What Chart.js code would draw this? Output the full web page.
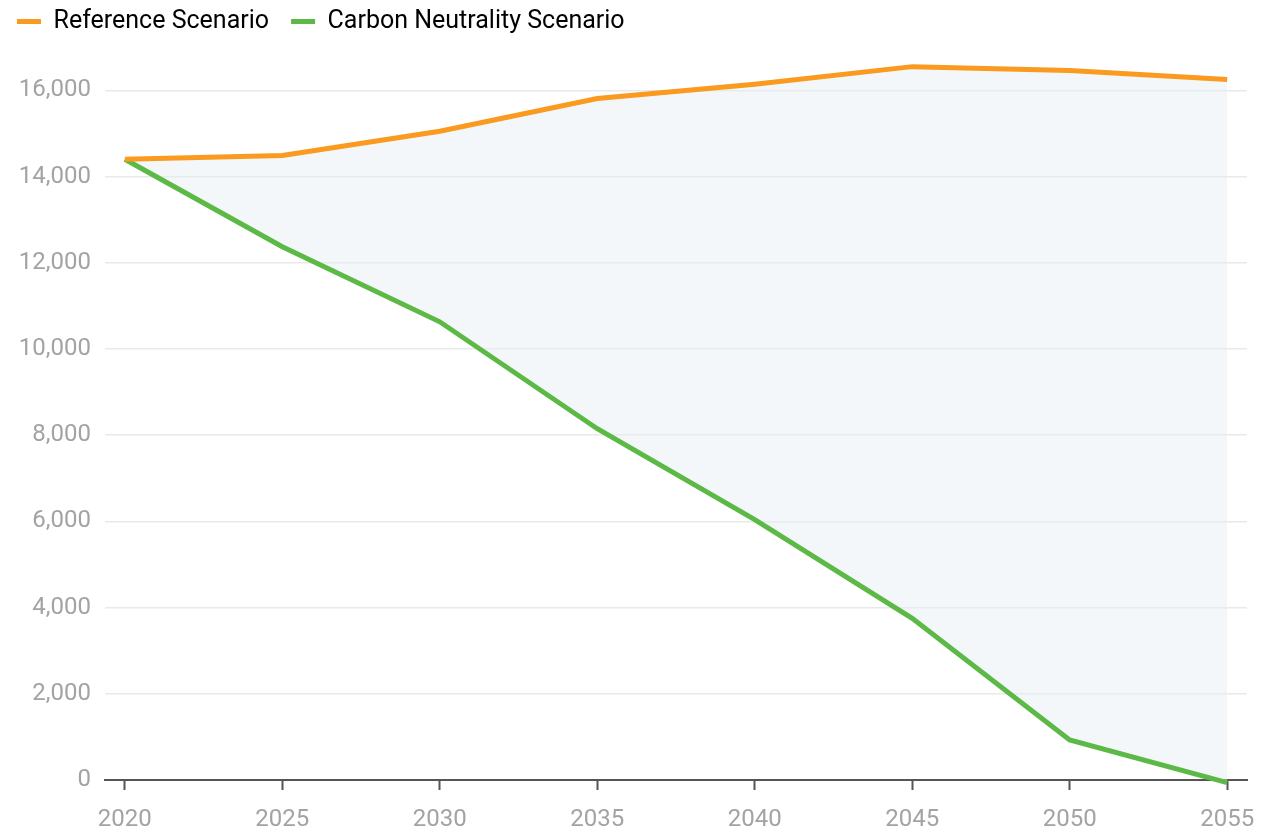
<!DOCTYPE html>
<html>
<head>
<meta charset="utf-8">
<script src="https://cdn.jsdelivr.net/npm/chart.js@4.4.1/dist/chart.umd.min.js"></script>
<style>
  html, body { margin: 0; padding: 0; background: #fff; }
  #wrap { width: 1281px; height: 832px; position: relative; }
</style>
</head>
<body>
<div id="wrap"><canvas id="chart"></canvas></div>
<script>
// Dados
const years = [2020, 2025, 2030, 2035, 2040, 2045, 2050, 2055];
const referenceValues = [14400, 14490, 15050, 15810, 16140, 16550, 16460, 16250];
const neutralityValues = [14400, 12370, 10630, 8150, 6040, 3750, 930, -60];
const yTicks = [0, 2000, 4000, 6000, 8000, 10000, 12000, 14000, 16000];

const orange = '#fa9a1e';
const green = '#5cb946';

const toPoints = (vals) => years.map((y, i) => ({ x: y, y: vals[i] }));

new Chart(document.getElementById('chart'), {
    type: 'line',
    data: {
        datasets: [{
            label: 'Reference Scenario',
            data: toPoints(referenceValues),
            borderColor: orange,
            backgroundColor: orange,
            borderWidth: 5,
            pointRadius: 0,
            tension: 0,
            fill: false,
            clip: false
        }, {
            label: 'Carbon Neutrality Scenario',
            data: toPoints(neutralityValues),
            borderColor: green,
            backgroundColor: 'rgba(232, 239, 246, 0.5)',
            borderWidth: 5,
            pointRadius: 0,
            tension: 0,
            fill: '-1',
            clip: false
        }]
    },
    options: {
        responsive: true,
        maintainAspectRatio: false,
        animation: false,
        layout: { padding: { left: -5, right: 34, top: -13, bottom: 0 } },
        plugins: {
            tooltip: { enabled: false },
            legend: {
                position: 'top',
                align: 'start',
                labels: {
                    boxWidth: 24,
                    boxHeight: 5,
                    padding: 22,
                    color: '#444',
                    font: { family: 'Roboto', size: 25 },
                    generateLabels: (chart) => chart.data.datasets.map((ds, i) => ({
                        text: ds.label,
                        fillStyle: ds.borderColor,
                        strokeStyle: ds.borderColor,
                        lineWidth: 0,
                        datasetIndex: i
                    }))
                }
            }
        },
        scales: {
            x: {
                type: 'linear',
                min: 2019.37,
                max: 2055.63,
                afterBuildTicks: (scale) => { scale.ticks = years.map(v => ({ value: v })); },
                afterFit: (scale) => { scale.height = 52; },
                grid: {
                    drawOnChartArea: false,
                    drawTicks: true,
                    tickLength: 10,
                    tickWidth: 2,
                    tickColor: '#555'
                },
                border: { display: true, color: '#555', width: 2 },
                ticks: {
                    color: '#a3a3a3',
                    padding: 16,
                    font: { family: 'Roboto', size: 24 },
                    callback: (v) => String(v)
                }
            },
            y: {
                min: 0,
                max: 17075,
                afterBuildTicks: (scale) => { scale.ticks = yTicks.map(v => ({ value: v })); },
                afterFit: (scale) => { scale.width = 110; },
                grid: {
                    color: '#e9e9e9',
                    lineWidth: 1.5,
                    drawTicks: false
                },
                border: { display: false },
                ticks: {
                    color: '#a3a3a3',
                    padding: 14,
                    font: { family: 'Roboto', size: 24 },
                    callback: (v) => v.toLocaleString('en-US')
                }
            }
        }
    }
});
</script>
</body>
</html>
